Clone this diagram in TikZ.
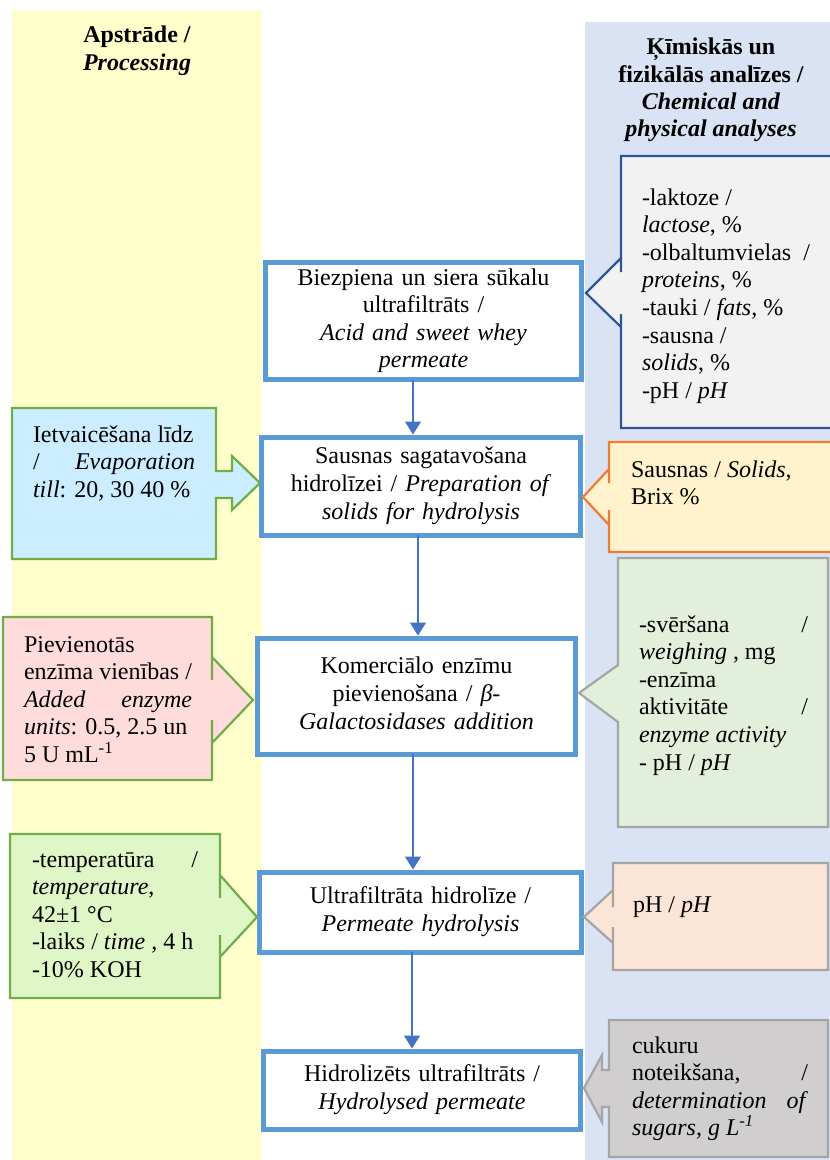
\documentclass[tikz,border=0pt]{standalone}
\usepackage{fontspec}
\setmainfont{Liberation Serif}
\usetikzlibrary{arrows.meta}
\definecolor{colyellow}{HTML}{FFFFCC}
\definecolor{colblue}{HTML}{DAE3F3}
\definecolor{boxblue}{HTML}{5B9BD5}
\definecolor{arrowblue}{HTML}{4472C4}
\definecolor{greenline}{HTML}{70AD47}
\definecolor{lightblue}{HTML}{CCECFF}
\definecolor{lightpink}{HTML}{FFDCDC}
\definecolor{lightlime}{HTML}{DFF7C6}
\definecolor{darkblue}{HTML}{2F5597}
\definecolor{lightgray}{HTML}{F2F2F2}
\definecolor{orangeline}{HTML}{ED7D31}
\definecolor{lightyellow}{HTML}{FFF2CC}
\definecolor{grayline}{HTML}{A5A5A5}
\definecolor{lightgreen}{HTML}{E2EFDA}
\definecolor{peach}{HTML}{FBE5D6}
\definecolor{midgray}{HTML}{D0CECE}
\newcommand{\jline}[3]{\makebox[#1][l]{#2\hfill#3}}
\begin{document}
\begin{tikzpicture}[x=1pt,y=-1pt,
  every node/.style={font=\fontsize{24}{27.6}\selectfont, inner sep=0pt, outer sep=0pt},
  mainbox/.style={draw=boxblue, line width=5pt, fill=white, align=center, text width=310pt},
  flow/.style={draw=arrowblue, line width=1.3pt, -{Triangle[length=13pt,width=16pt]}},
  txt/.style={anchor=north west, align=left},
  hdr/.style={anchor=north, align=center, font=\fontsize{24}{27.3}\selectfont\bfseries},
  callout/.style={line width=2.2pt, line join=miter}
]
\useasboundingbox (0,0) rectangle (830,1160);
% columns
\fill[colyellow] (12,10) rectangle (262,1160);
\fill[colblue] (585,22) rectangle (830,1160);
% headers
\node[hdr] (h1) at (137,23.7) {\strut Apstrāde /\\ \textit{Processing}};
\node[hdr] (h2) at (711,35.7) {\strut Ķīmiskās un\\ fizikālās analīzes /\\ \textit{Chemical and}\\ \textit{physical analyses}};

% main boxes
\node[mainbox, minimum width=316pt, minimum height=117pt] (B1) at (423.5,321)
  {\strut Biezpiena un siera sūkalu\\ ultrafiltrāts /\\ \textit{Acid and sweet whey}\\ \textit{permeate}\strut};
\node[mainbox, minimum width=319pt, minimum height=98pt] (B2) at (421,486)
  {\strut Sausnas sagatavošana\\ hidrolīzei / \textit{Preparation of}\\ \textit{solids for hydrolysis}\strut};
\node[mainbox, minimum width=318pt, minimum height=116pt] (B3) at (416.5,696)
  {\strut Komerciālo enzīmu\\ pievienošana / \textit{β-}\\ \textit{Galactosidases addition}\strut};
\node[mainbox, minimum width=322pt, minimum height=80pt] (B4) at (420.5,912)
  {\strut Ultrafiltrāta hidrolīze /\\ \textit{Permeate hydrolysis}\strut};
\node[mainbox, minimum width=317pt, minimum height=78pt] (B5) at (422,1090)
  {\strut Hidrolizēts ultrafiltrāts /\\ \textit{Hydrolysed permeate}\strut};

% flow arrows
\draw[flow, shorten >=2.5pt] ([xshift=-10.5pt]B1.south) -- ([xshift=-8pt]B2.north);
\draw[flow, shorten >=2.5pt] ([xshift=-3pt]B2.south) -- ([xshift=1.5pt]B3.north);
\draw[flow, shorten >=2.5pt] ([xshift=-3.5pt]B3.south) -- ([xshift=-7.5pt]B4.north);
\draw[flow, shorten >=2.5pt] ([xshift=-8.5pt]B4.south) -- ([xshift=-10pt]B5.north);

% left callouts
\filldraw[callout, fill=lightblue, draw=greenline]
  (12,408) -- (216,408) -- (216,471) -- (232,471) -- (232,456) -- (260,483)
  -- (232,510) -- (232,498) -- (216,498) -- (216,559) -- (12,559) -- cycle;
\node[txt] (L1) at (33,422.7)
  {\strut Ietvaicēšana līdz\\ \jline{162pt}{/}{\textit{Evaporation}}\\ \textit{till}: 20, 30 40 \%};

\filldraw[callout, fill=lightpink, draw=greenline]
  (3,617) -- (212,617) -- (212,680) -- (212,657) -- (253,700)
  -- (212,743) -- (212,720) -- (212,780) -- (3,780) -- cycle;
\node[txt] (L2) at (24,632.7)
  {\strut Pievienotās\\ enzīma vienības /\\ \jline{168pt}{\textit{Added}}{\textit{enzyme}}\\ \textit{units}: 0.5, 2.5 un\\ 5 U mL\textsuperscript{-1}};

\filldraw[callout, fill=lightlime, draw=greenline]
  (10,834) -- (220,834) -- (220,898) -- (220,875) -- (257,917)
  -- (220,957) -- (220,935) -- (220,998) -- (10,998) -- cycle;
\node[txt] (L3) at (32,847.7)
  {\strut \jline{166pt}{-temperatūra}{/}\\ \textit{temperature},\\ 42±1 °C\\ -laiks / \textit{time} , 4 h\\ -10\% KOH};

% right callouts
\filldraw[callout, fill=lightgray, draw=darkblue]
  (833,156) -- (621,156) -- (621,272) -- (621,258) -- (586,293)
  -- (621,327) -- (621,314) -- (621,428) -- (833,428) -- cycle;
\node[txt] (R1) at (642,185.7)
  {\strut -laktoze /\\ \textit{lactose}, \%\\ \jline{168pt}{-olbaltumvielas}{/}\\ \textit{proteins}, \%\\ -tauki / \textit{fats}, \%\\ -sausna /\\ \textit{solids}, \%\\ -pH / \textit{pH}};

\filldraw[callout, fill=lightyellow, draw=orangeline]
  (833,442) -- (609,442) -- (609,483) -- (609,469) -- (583,497)
  -- (609,525) -- (609,510) -- (609,552) -- (833,552) -- cycle;
\node[txt] (R2) at (631,457.7)
  {\strut Sausnas / \textit{Solids},\\ Brix \%};

\filldraw[callout, fill=lightgreen, draw=grayline]
  (828,558) -- (618,558) -- (618,665) -- (579,693)
  -- (618,722) -- (618,827) -- (828,827) -- cycle;
\node[txt] (R3) at (639,612.7)
  {\strut \jline{169pt}{-svēršana}{/}\\ \textit{weighing} , mg\\ -enzīma\\ \jline{169pt}{aktivitāte}{/}\\ \textit{enzyme activity}\\ - pH / \textit{pH}};

\filldraw[callout, fill=peach, draw=grayline]
  (828,863) -- (613,863) -- (613,907) -- (613,890) -- (584,917)
  -- (613,943) -- (613,927) -- (613,970) -- (828,970) -- cycle;
\node[txt] (R4) at (633,892.7) {\strut pH / \textit{pH}};

\filldraw[callout, fill=midgray, draw=grayline]
  (828,1020) -- (609,1020) -- (609,1070) -- (602,1070) -- (602,1055) -- (584,1088)
  -- (602,1122) -- (602,1107) -- (609,1107) -- (609,1157) -- (828,1157) -- cycle;
\node[txt] (R5) at (632,1033.7)
  {\strut cukuru\\ \jline{176pt}{noteikšana,}{/}\\ \jline{176pt}{\textit{determination}}{\textit{of}}\\ \textit{sugars, g L\textsuperscript{-1}}};
\end{tikzpicture}
\end{document}
